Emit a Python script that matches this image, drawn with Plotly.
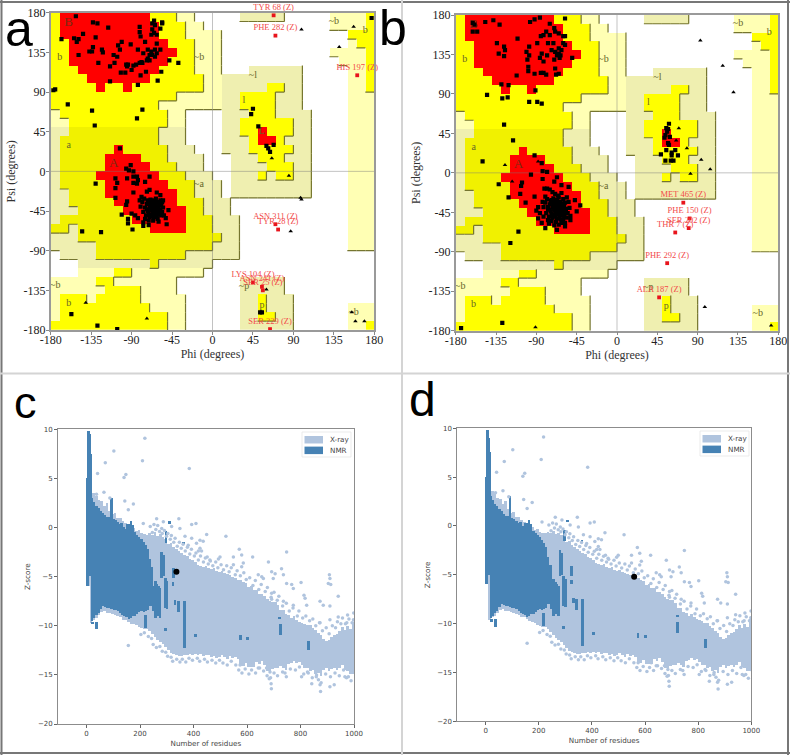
### Ramachandran plots (a, b) and Z-score plots (c, d) ###
import plotly.graph_objs as go

W, H = 790, 755

# Ramachandran regions, one row per 10 degrees of psi (from 180 down to -180).
# Every token is a region code and the phi where it ends.
# . none, L generous, l generous (darker), Y allowed, y allowed (darker), R core
REGION_ROWS = [
    "Y-170 R-70 Y-40 L-20 .30 l80 .130 L170 Y180",
    "Y-170 R-60 Y-30 L-10 .130 L170 Y180",
    "Y-170 R-60 Y-30 L10 .150 Y180",
    "Y-160 R-50 Y-20 L10 .150 L160 Y180",
    "Y-160 R-40 Y-20 L10 .130 L170 Y180",
    "Y-160 R-50 Y-20 L10 .140 L170 Y180",
    "Y-150 R-60 Y-20 L10 .40 l100 .150 L170 Y180",
    "Y-140 R-70 Y-10 L10 l100 .150 L170 Y180",
    "Y-130 R-120 Y-100 R-90 Y-10 L10 l60 Y80 l100 .150 L170 Y180",
    "Y-40 L10 l30 Y70 l100 .150 L180",
    "Y-60 L10 l30 Y70 l100 .150 L180",
    "L-170 Y-50 L-30 .10 l40 Y70 l110 .150 L180",
    "L-160 Y-50 L-30 .10 l30 Y90 l110 .150 L180",
    "l-160 y-60 l-30 .10 l30 Y50 R60 Y90 l110 .150 L180",
    "l-170 y-60 l-30 .10 l40 Y50 R70 Y80 l110 .150 L180",
    "l-170 y-110 R-100 y-50 l-20 .10 l40 Y90 l110 .150 L180",
    "l-170 y-120 R-80 y-50 l-10 .20 l50 Y80 l110 .150 L180",
    "l-170 y-120 R-70 y-40 l-10 .20 l60 Y90 l110 .150 L180",
    "l-170 y-130 R-60 y-30 l0 .20 l50 Y60 l70 Y90 l110 .150 L180",
    "l-170 y-120 R-50 y-20 l10 .20 l110 .150 L180",
    "l-160 y-120 R-40 y-20 l10 .20 l110 .150 L180",
    "l-160 y-110 R-40 y-10 l20 .150 L180",
    "l-150 y-100 R-30 y-10 l20 .150 L180",
    "l-170 y-90 R-30 y0 l30 .150 L180",
    "y-160 l-150 y-70 R-30 y0 l30 .150 L180",
    "l-150 y10 l30 .150 L180",
    "l-130 y0 l30 .150 L180",
    ".-170 l-130 y-30 l30 .180",
    ".-150 l-70 y-60 l0 .180",
    ".-150 L-110 Y-90 L-10 .180",
    "L-130 Y-110 L-40 .30 l80 .180",
    "L-120 Y-80 L-40 .30 l80 .180",
    "L-170 Y-140 L-130 Y-80 L-30 .30 l50 Y60 l90 .180",
    "L-170 Y-70 L-30 .30 l50 Y60 l90 .150 L180",
    "L-170 Y-50 L-30 .30 l50 Y70 l90 .150 L180",
    "Y-50 L-30 .30 l90 .150 L170 Y180",
]
REGION_CODES = ".LlYyR"
REGION_COLORS = ["#FFFFFF", "#FFFFB4", "#EFEFB0", "#FFFF00", "#F1F100", "#FF0000"]
REGION_RANK = {".": 0, "L": 1, "l": 1, "Y": 2, "y": 2, "R": 3}

REGION_LABELS = [("b", -170, 129), ("a", -160, 29), ("~b", -15, 129), ("~a", -15, -15),
                 ("~l", 45, 109), ("l", 35, 80), ("L", 55, 45), ("~b", 135, 170),
                 ("b", 170, 160), ("~b", -175, -130), ("b", -160, -150), ("~p", 35, -131),
                 ("p", 55, -152), ("~b", 157, -160)]
CORE_LABELS = [("B", -160, 169), ("A", -110, 9)]

a_squares = [
    (-152, 176), (-133, 169), (-128, 168), (-116, 163), (-168, 150), (-144, 156), (-154, 151),
    (-149, 150), (-151, 147), (-130, 152), (-149, 132), (-137, 136), (-134, 136), (-133, 141),
    (-123, 138), (-122, 135), (-127, 123), (-114, 119), (-109, 123), (-110, 132), (-105, 143),
    (-101, 147), (-91, 144), (-103, 138), (-106, 130), (-102, 112), (-97, 112), (-114, 102),
    (-96, 121), (-94, 121), (-95, 119), (-88, 120), (-85, 121), (-81, 123), (-78, 123),
    (-90, 115), (-80, 109), (-74, 113), (-83, 98), (-61, 103), (-57, 113), (-48, 126), (-38, 123),
    (-81, 164), (-81, 158), (-80, 153), (-65, 171), (-67, 168), (-64, 166), (-56, 169), (-56, 168),
    (-58, 162), (-67, 161), (-65, 157), (-62, 155), (-68, 155), (-62, 145), (-58, 138), (-64, 138),
    (-68, 136), (-70, 132), (-72, 128), (-67, 132), (-72, 138), (-75, 147), (-83, 138), (-77, 134),
    (-79, 124), (-73, 126), (-70, 126), (-64, 130), (-62, 134),
    (-177, 92), (-175, 93), (-161, 76), (-134, 69), (-131, 52), (-84, 60), (-78, 70),
    (-103, 26), (-130, -14), (-145, -68), (-124, -69), (-89, -66),
    (-91, 7), (-96, 3), (-93, 1), (-88, 0), (-108, -8), (-106, -13), (-108, -19), (-95, -8),
    (-88, -6), (-84, -6), (-88, -13), (-84, -14), (-83, -10), (-70, -6), (-75, -12),
    (-88, -24), (-108, -30), (-95, -34), (-96, -38), (-101, -49), (-94, -54), (-94, -59),
    (-90, -48), (-86, -50), (-83, -53), (-77, -58), (-77, -62), (-71, -61), (-79, -29), (-81, -33),
    (-73, -23), (-70, -21), (-62, -24), (-58, -27), (-55, -33), (-49, -44), (-52, -53), (-51, -60),
    (-64, -42), (-66, -40), (-62, -44), (-68, -44), (-60, -40), (-70, -41), (-58, -43), (-64, -36),
    (-67, -35), (-61, -35), (-64, -48), (-68, -49), (-60, -49), (-72, -45), (-56, -46), (-65, -52),
    (-61, -54), (-70, -52), (-57, -38), (-73, -37), (-69, -32), (-63, -31), (-58, -33), (-55, -41),
    (-75, -41), (-77, -46), (-74, -50), (-54, -50), (-66, -45), (-63, -39), (-61, -46), (-69, -38),
    (-65, -33), (-59, -46), (-71, -47), (-67, -51), (-62, -51), (-57, -50), (-72, -33), (-78, -35),
    (-80, -40), (-76, -31), (-66, -56), (-60, -57), (-71, -56), (-75, -54), (-65, -37), (-62, -42),
    (-68, -42), (-64, -45), (-59, -37), (-66, -48), (-70, -35), (-73, -43), (-56, -35),
    (45, 71), (43, 65), (51, 51), (60, 29), (62, 26), (64, 22), (68, 30), (53, -160), (55, -160),
    (-157, -162), (-128, -175), (-106, -179), (177, 174),
]
a_triangles = [(-141, -149), (-73, -167), (141, 141), (157, 164), (66, 15), (85, -5), (99, -32),
               (98, -30), (87, -68), (99, 161), (159, -170), (169, -170), (155, -160), (60, -134)]
a_outliers = [("TYR 68 (Z)", 68, 177), ("PHE 282 (Z)", 70, 154), ("HIS 197 (Z)", 161, 109),
              ("ASN 311 (Z)", 70, -60), ("TYR 28 (Z)", 73, -66), ("LYS 104 (Z)", 45, -126),
              ("ASN 241 (Z)", 55, -131), ("SER 25 (Z)", 56, -135), ("SER 229 (Z)", 64, -179)]

b_squares = [
    (-161, 171), (-159, 169), (-161, 161), (-156, 161), (-147, 172), (-138, 174), (-131, 169),
    (-97, 172), (-92, 175), (-86, 177), (-58, 176), (-75, 170), (-70, 165), (-79, 161), (-85, 156),
    (-82, 157), (-75, 157), (-69, 161), (-65, 159), (-60, 156), (-58, 156), (-111, 153), (-134, 148),
    (-126, 144), (-125, 140), (-132, 136), (-126, 133), (-98, 144), (-101, 138), (-98, 134),
    (-100, 129), (-89, 148), (-84, 136), (-86, 131), (-82, 127), (-78, 134), (-73, 140), (-69, 138),
    (-65, 136), (-62, 140), (-58, 146), (-60, 148), (-64, 131), (-67, 134), (-70, 129), (-65, 142),
    (-63, 134), (-50, 131), (-71, 148), (-77, 148), (-69, 119), (-65, 113), (-68, 112), (-99, 121),
    (-99, 116), (-92, 113), (-85, 114), (-79, 112), (-82, 114), (-112, 111), (-129, 101), (-121, 100),
    (-91, 94), (-145, 89), (-128, 85), (-122, 86), (-98, 81), (-89, 81), (-84, 79), (-126, 55),
    (-116, 37), (-150, 13), (-132, -13), (-110, -67), (-119, -80),
    (-92, 20), (-84, 11), (-96, -2), (-78, 1), (-83, 2), (-106, -11), (-107, -15), (-108, -24),
    (-121, -28), (-102, -34), (-92, -27), (-83, -7), (-81, -18), (-67, -5), (-70, -10), (-75, -19),
    (-78, -18), (-88, -39), (-90, -43), (-86, -46), (-82, -50), (-80, -63), (-88, -52), (-84, -57),
    (-67, -65), (-58, -61), (-52, -54), (-47, -31), (-41, -37), (-45, -44), (-62, -14), (-54, -16),
    (-73, -31), (-77, -39),
    (-66, -40), (-68, -38), (-64, -42), (-70, -43), (-62, -37), (-72, -39), (-60, -44), (-66, -34),
    (-69, -33), (-63, -33), (-66, -47), (-70, -48), (-62, -48), (-74, -44), (-58, -46), (-67, -52),
    (-63, -53), (-72, -51), (-59, -37), (-75, -36), (-71, -29), (-65, -28), (-60, -30), (-57, -41),
    (-77, -41), (-79, -46), (-76, -50), (-56, -51), (-68, -44), (-65, -39), (-63, -45), (-71, -36),
    (-67, -31), (-61, -41), (-73, -47), (-69, -50), (-64, -50), (-59, -50), (-74, -32), (-80, -34),
    (-82, -39), (-78, -30), (-68, -56), (-62, -57), (-73, -55), (-77, -54), (-67, -36), (-64, -37),
    (-70, -41), (-66, -43), (-61, -35), (-68, -47), (-72, -34), (-75, -42), (-58, -34), (-55, -46),
    (-53, -40), (-66, -26), (-62, -23), (-69, -24), (-72, -22), (-60, -54), (-65, -59), (-58, -57),
    (-70, -60), (-76, -58), (-80, -27), (-83, -33), (-56, -28), (-54, -33), (-52, -49),
    (58, 56), (55, 51), (57, 50), (54, 43), (59, 41), (57, 34), (58, 32), (49, 21), (55, 26), (61, 23),
    (65, 26), (68, 20), (54, 14), (60, 14), (63, 14), (61, 20), (56, 47), (53, 40),
    (-174, -177), (-128, -171),
]
b_triangles = [(-125, 9), (-88, 13), (-117, -10), (69, 51), (66, 37), (78, 28), (82, -1), (93, 151),
               (118, 122), (130, 92), (94, 15), (104, 4), (98, -153), (172, -174), (-91, -176)]
b_outliers = [("MET 465 (Z)", 74, -34), ("PHE 150 (Z)", 81, -52), ("SER 202 (Z)", 80, -63),
              ("THR 7 (Z)", 65, -68), ("PHE 292 (Z)", 56, -103), ("ALA 187 (Z)", 47, -142)]

# X-ray cloud of the Z-score plots, upper and lower edge per 10 residues
xray_n = list(range(5, 1000, 10))
xray_hi = [5.5, 4.5, 3.5, 3.2, 2.8, 2.7, 2.2, 2.5, 1.7, 1.3,
           1.4, 0.9, 0.9, 0.6, 0.4, 0.2, 0.1, -0.1, -0.4, -0.3,
           -0.6, -0.7, -0.8, -0.6, -0.8, -0.5, -0.9, -0.7,
           -1, -1.2, -1.7, -1.6, -2, -2.2, -2.4, -2.6, -2.8, -2.9,
           -3.2, -3.3, -3.5, -3.8, -3.9, -4, -3.9, -4.2, -4.3, -4.2,
           -4.5, -4.6, -4.5, -4.7, -4.8, -4.9, -5.1, -5.2, -5.4, -5.4,
           -5.6, -5.7, -6.1, -6, -6.4, -6.4, -6.8, -6.8, -7, -7.3,
           -7.5, -7.6, -7.6, -7.9, -8.4, -8.4, -8.8, -8.9, -9.2, -9,
           -9.4, -9.6, -9.7, -9.8, -10, -10, -10.3, -10.5, -10.8, -11,
           -11.4, -11.6, -11.5, -11.2, -11, -10.9, -10.6, -10.2, -10.5, -10.1, -10.4, -9.6]
xray_lo = [-6, -9.7, -9.4, -9.2, -8.9, -8.6, -8.5, -8.7, -8.7, -8.8, -8.9, -9, -9.1, -9.4, -9.4, -9.6, -9.8, -9.9,
           -10, -10.2, -10.3, -10.4, -10.4, -10.6, -10.9, -11.2, -11.5, -11.7, -11.9, -12.2, -12.5, -12.8, -12.9,
           -13, -13.1, -13.1, -13, -13, -12.9, -13, -12.9, -13, -12.9, -13.1, -13, -13, -13.2, -13.1, -13.3, -13.2,
           -13, -13.2, -13.4, -13.1, -13.3, -13.2, -13.4, -14.1, -14.1, -13.8, -14.2, -14.2, -14.2, -13.7, -13.9,
           -13.6, -14, -14.6, -14.6, -14.4, -14.3, -14.3, -14.1, -14.3, -14.5, -13.9, -13.8, -13.6, -13.8, -13.7,
           -14, -14.3, -14.3, -14.6, -14.5, -14.9, -14.8, -15.1, -14.5, -14.3, -14.6, -14.4, -14.3, -14.5, -14.3,
           -14, -14.5, -14.6, -14.9, -14.9]
xray_stray = [
    (218, 9.1), (102, 7.8), (209, 6.8), (70, 6.6), (384, 6), (147, 5.4), (140, 5.1), (41, 5.5), (143, 2.7),
    (175, 2.4), (156, 1.8), (65, 3.6), (87, 3), (37, 3.4), (212, 0.4), (262, 0.9), (287, 0.6), (345, 0.9),
    (318, 0.1), (393, 0.3), (409, 0.4), (349, -0.1), (449, -0.7), (521, -0.9), (368, -0.9), (393, -1.1),
    (424, -1.3), (436, -1.4), (411, -1.6), (380, -1.8), (424, -2.1), (418, -2.4), (430, -2.4), (571, -2.2),
    (748, -2.5), (621, -3), (549, -3), (580, -2.8), (499, -3), (493, -3.2), (461, -3.3), (451, -3), (680, -3.5),
    (586, -3.6), (549, -3.8), (580, -4), (729, -4.2), (692, -4.5), (705, -4.7), (736, -4.8), (642, -4.8),
    (655, -5), (661, -5.2), (698, -5.2), (908, -4.8), (910, -5.2), (904, -5.7), (913, -5.8), (748, -5.7),
    (767, -5.8), (773, -6.2), (802, -5.6), (813, -6.9), (817, -7.2), (873, -7.5), (941, -7), (885, -7.9),
    (910, -8), (692, -6.7), (692, -7.3), (736, -7.5), (773, -7.9), (823, -7.9), (976, -8.9), (941, -9.1),
    (910, -9.4), (873, -9.7), (998, -9.4), (973, -9.7), (156, -12), (673, -14.3), (686, -14.7), (688, -15.3),
    (690, -15.9), (691, -16.4), (804, -15.2), (829, -14.8), (842, -15.9), (860, -15), (873, -16), (875, -16.7),
    (867, -15.5), (910, -16.2), (926, -16), (966, -15.2), (979, -15.2), (574, -14), (623, -14), (642, -14.3),
    (742, -14.8), (998, -14.7), (985, -14.3),
]
# Points that make the rough upper and lower rim of the X-ray cloud
xray_rim = [
    (238, 0.1), (246, -0.5), (252, 0.3), (259, -0.2), (266, 0.2), (273, -0.4), (281, -0.1), (283, -0.6), (291, -0.3),
    (299, -0.9), (304, -0.6), (313, -1.2), (317, -0.8), (326, -1.5), (331, -1.1), (339, -1.9), (347, -1.5), (354, -2.1),
    (361, -1.7), (369, -2.4), (377, -2), (386, -2.7), (392, -2.2), (403, -2.9), (409, -2.6), (418, -3.3), (426, -2.9),
    (437, -3.5), (444, -3.1), (455, -3.7), (463, -3.4), (472, -3.9), (483, -3.5), (491, -4.1), (503, -3.8), (512, -4.3),
    (524, -3.9), (533, -4.5), (541, -4.1), (556, -4.8), (563, -4.4), (575, -4.9), (588, -4.6), (597, -5.3), (610, -5.1),
    (622, -5.9), (631, -5.4), (644, -6.3), (653, -5.8), (668, -6.5), (676, -6.1), (690, -7.1), (701, -6.6), (713, -7.4),
    (719, -7), (733, -8), (747, -7.7), (758, -8.5), (772, -8.2), (788, -9), (794, -8.5), (808, -9.2), (820, -9),
    (834, -9.5), (846, -9.3), (857, -10), (871, -9.7), (882, -10.5), (896, -10.2), (907, -10.8), (919, -10),
    (931, -10.2), (938, -9.6), (951, -9.8), (957, -9.2), (968, -9.8), (981, -9.3), (993, -9.7), (999, -8.7),
    (203, -10.9), (216, -10.7), (231, -11.1), (243, -11.3), (249, -11.9), (261, -12.2), (274, -12.1), (283, -12.6),
    (296, -12.7), (303, -13.1), (316, -13.2), (322, -13.6), (337, -13.4), (349, -13.7), (358, -13.4), (371, -13.7),
    (383, -13.3), (396, -13.5), (414, -13.3), (423, -13.6), (441, -13.4), (452, -13.7), (469, -13.5), (483, -13.8),
    (497, -13.5), (510, -13.8), (526, -14), (541, -13.6), (558, -14), (569, -14.5), (581, -14.8), (593, -14.4),
    (607, -14.9), (617, -14.5), (632, -14.8), (647, -14.3), (662, -14.6), (675, -15.1), (683, -15.4), (701, -14.8),
    (714, -15.1), (733, -14.7), (747, -15.2), (762, -14.4), (781, -14.5), (796, -14.2), (812, -14.9), (826, -14.7),
    (844, -15.3), (859, -15.2), (877, -15.8), (894, -14.9), (912, -15.2), (929, -14.8), (945, -15.1), (961, -14.5),
    (972, -15.3), (989, -15.6),
]

# NMR cloud: main body per 8 residues, then the separate columns
nmr_n = [20, 28, 36, 44, 52, 60, 68, 76, 84, 92, 100, 108, 116, 124, 132, 140, 148, 156, 164, 172, 180, 188, 196,
         204, 212, 220, 228, 236]
nmr_hi = [3, 2.6, 2.2, 2, 1.7, 1.5, 1.2, 1, 1, 3, 0.8, 0.7, 0.5, 0.3, 0, 0, -0.2, 0.3, 0.6, 0.2, -0.5, -0.8,
          -1, -1.2, -1.5, -1.8, -2.2, -3.2]
nmr_lo = [-9.5, -9.2, -8.9, -8.7, -8.3, -8, -8.1, -8.2, -8.2, -8.3, -8.4, -8.4, -8.5, -8.7, -8.9, -9, -9.1, -9.3,
          -9.2, -9, -9, -8.8, -8.6, -8.5, -8.6, -8.5, -8.4, -8]
col_n = [2, 6, 9, 12, 15, 37, 21, 244, 256, 268, 280, 293, 296, 324, 330, 343, 365, 218, 293, 405, 574, 601, 723,
         721, 828, 362, 309, 322, 248, 262, 274, 300, 286, 130, 150]
col_hi = [5, 9.8, 9.5, 9, 7.5, -9.6, -9.6, -4, -5.5, -6, -2.5, -5.2, -0.4, -4.1, -7.4, -7.5, -7.5, -8.9, -10.3,
          -10.9, -11, -11.2, -9.9, -9.1, -11.6, -1.5, 0.6, -5.6, -6, -5.8, -6.2, -5.5, -2.8, 0.4, 0.3]
col_lo = [-6, -5, -5, -5, -5, -10.4, -9.9, -8, -9.2, -9, -5.2, -8.2, -1.6, -5.2, -7.9, -8.6, -12.3, -10.3, -10.5,
          -11.2, -11.5, -11.4, -11, -9.3, -12.5, -1.7, 0.4, -6, -8.5, -9, -9.2, -8.3, -5, -1, -1]

c_query = (336, -4.5)
d_query = (559, -5.2)

RAMA_TICKS = [-180, -135, -90, -45, 0, 45, 90, 135, 180]
RAMA_TICK_LABELS = ["-180", "-135", "-90", "-45", "0", "45", "90", "135", "180"]
N_TICKS = [0, 200, 400, 600, 800, 1000]
Z_TICKS = [-20, -15, -10, -5, 0, 5, 10]

SERIF = "Liberation Serif"
SANS = "DejaVu Sans"
XRAY_COLOR = "#B0C4DE"
NMR_COLOR = "#4682B4"
FRAME_DARK = "#777777"
FRAME_LIGHT = "#D4D4D4"


def region_grid():
    grid = []
    for row in REGION_ROWS:
        cells, phi = [], -180
        for token in row.split():
            end = int(token[1:])
            cells += [token[0]] * ((end - phi) // 10)
            phi = end
        assert len(cells) == 36, row
        grid.append(cells)
    return grid


def region_edges(grid):
    # Dark edge on the right and lower side of every region, except the core one
    xs, ys = [], []
    for j, cells in enumerate(grid):
        top = 180 - 10 * j
        for i, c in enumerate(cells):
            left = -180 + 10 * i
            rank = REGION_RANK[c]
            if rank == 0 or rank == 3:
                continue
            if i < 35 and REGION_RANK[cells[i + 1]] < rank:
                xs += [left + 10, left + 10, None]
                ys += [top, top - 10, None]
            if j < 35 and REGION_RANK[grid[j + 1][i]] < rank:
                xs += [left, left + 10, None]
                ys += [top - 10, top - 10, None]
    return xs, ys


def col_split(pairs):
    return [p[0] for p in pairs], [p[1] for p in pairs]


def add_rama(fig, ax, squares, triangles, outliers):
    grid = region_grid()
    n = len(REGION_CODES) - 1
    scale = []
    for k, color in enumerate(REGION_COLORS):
        scale += [[k / (n + 1), color], [(k + 1) / (n + 1), color]]
    z = [[REGION_CODES.index(c) for c in cells] for cells in grid]
    xref, yref = "x" + ax, "y" + ax
    fig.add_trace(go.Heatmap(x=[-175 + 10 * i for i in range(36)], y=[175 - 10 * j for j in range(36)], z=z,
                             zmin=-0.5, zmax=n + 0.5, colorscale=scale, showscale=False, hoverinfo="skip",
                             xaxis=xref, yaxis=yref))
    ex, ey = region_edges(grid)
    fig.add_trace(go.Scatter(x=ex, y=ey, mode="lines", line=dict(color="#75752F", width=1.2),
                             xaxis=xref, yaxis=yref))
    fig.add_trace(go.Scatter(x=[0, 0, None, -180, 180], y=[-180, 180, None, 0, 0], mode="lines",
                             line=dict(color="rgba(120,120,120,0.45)", width=1), xaxis=xref, yaxis=yref))
    t, lx, ly = zip(*REGION_LABELS)
    fig.add_trace(go.Scatter(x=lx, y=ly, text=t, mode="text", textfont=dict(family=SERIF, size=10, color="#66662A"),
                             xaxis=xref, yaxis=yref))
    t, lx, ly = zip(*CORE_LABELS)
    fig.add_trace(go.Scatter(x=lx, y=ly, text=t, mode="text", textfont=dict(family=SERIF, size=13, color="#7A2A10"),
                             xaxis=xref, yaxis=yref))
    sx, sy = col_split(squares)
    fig.add_trace(go.Scatter(x=sx, y=sy, mode="markers", marker=dict(symbol="square", size=4.2, color="black"),
                             xaxis=xref, yaxis=yref))
    sx, sy = col_split(triangles)
    fig.add_trace(go.Scatter(x=sx, y=sy, mode="markers", marker=dict(symbol="triangle-up", size=4, color="black"),
                             xaxis=xref, yaxis=yref))
    t, lx, ly = zip(*outliers)
    fig.add_trace(go.Scatter(x=lx, y=ly, text=t, mode="markers+text", textposition="top center", cliponaxis=False,
                             marker=dict(symbol="square", size=3.8, color="#E8141C"),
                             textfont=dict(family=SERIF, size=8.5, color="#F24A4A"), xaxis=xref, yaxis=yref))


def add_zscore(fig, ax, query):
    xref, yref = "x" + ax, "y" + ax
    fig.add_trace(go.Bar(x=xray_n, y=[h - l for h, l in zip(xray_hi, xray_lo)], base=xray_lo, width=10,
                         marker=dict(color=XRAY_COLOR, line_width=0), xaxis=xref, yaxis=yref))
    sx, sy = col_split(xray_stray + xray_rim)
    fig.add_trace(go.Scatter(x=sx, y=sy, mode="markers", marker=dict(size=3.5, color=XRAY_COLOR),
                             xaxis=xref, yaxis=yref))
    fig.add_trace(go.Bar(x=nmr_n, y=[h - l for h, l in zip(nmr_hi, nmr_lo)], base=nmr_lo, width=8,
                         marker=dict(color=NMR_COLOR, line_width=0), xaxis=xref, yaxis=yref))
    fig.add_trace(go.Bar(x=col_n, y=[h - l for h, l in zip(col_hi, col_lo)], base=col_lo, width=10,
                         marker=dict(color=NMR_COLOR, line_width=0), xaxis=xref, yaxis=yref))
    fig.add_trace(go.Scatter(x=[query[0]], y=[query[1]], mode="markers", marker=dict(size=6, color="black"),
                             xaxis=xref, yaxis=yref))


def domain_x(left, right):
    return [left / W, right / W]


def domain_y(top, bottom):
    return [1 - bottom / H, 1 - top / H]


def rama_axes(title, dom, label_shift, title_gap):
    return dict(domain=dom, range=[-180, 180], tickvals=RAMA_TICKS, ticktext=RAMA_TICK_LABELS, ticks="outside",
                ticklen=3, tickwidth=1, tickcolor="#888888", showgrid=False, zeroline=False, showline=True,
                mirror=True, automargin=False, linecolor="#9A9A9A", linewidth=1.5, ticklabelstandoff=label_shift,
                tickfont=dict(family=SERIF, size=12, color="#222222"),
                title=dict(text=title, font=dict(family=SERIF, size=12, color="#333333"), standoff=title_gap))


def z_axes(title, dom, rng, ticks, title_gap):
    return dict(domain=dom, range=rng, tickvals=ticks, ticks="outside", ticklen=2.5, tickwidth=1,
                tickcolor="#666666", showgrid=False, zeroline=False, showline=True, mirror=True, automargin=False,
                linecolor="#8C8C8C", linewidth=1.2, tickfont=dict(family=SANS, size=7, color="#444444"),
                title=dict(text=title, font=dict(family=SANS, size=7.2, color="#444444"), standoff=title_gap))


fig = go.Figure()
add_rama(fig, "", a_squares, a_triangles, a_outliers)
add_rama(fig, "2", b_squares, b_triangles, b_outliers)
add_zscore(fig, "3", c_query)
add_zscore(fig, "4", d_query)

shapes, annotations = [], []

# Legends of the Z-score plots, in pixels of the page
for left, top in [(302, 432), (700, 431)]:
    shapes.append(dict(type="rect", xref="paper", yref="paper", x0=left / W, x1=(left + 49) / W,
                       y0=1 - top / H, y1=1 - (top + 25) / H, fillcolor="white",
                       line=dict(color="#E6E6E6", width=0.8)))
    for k, (name, color) in enumerate([("X-ray", XRAY_COLOR), ("NMR", NMR_COLOR)]):
        y0 = top + 4 + k * 10.6
        shapes.append(dict(type="rect", xref="paper", yref="paper", x0=(left + 2.5) / W, x1=(left + 21) / W,
                           y0=1 - y0 / H, y1=1 - (y0 + 7.5) / H, fillcolor=color, line_width=0))
        annotations.append(dict(xref="paper", yref="paper", x=(left + 25.5) / W, y=1 - (y0 + 3.8) / H,
                                xanchor="left", yanchor="middle", showarrow=False, text=name,
                                font=dict(family=SANS, size=7.2, color="#444444")))

# Panel frames
frames = [(1.5, 0, 1.5, H, FRAME_DARK, 2), (0, 2, W, 2, FRAME_DARK, 2), (0, 753, W, 753, FRAME_DARK, 2),
          (788, 0, 788, H, FRAME_DARK, 2), (402, 0, 402, H, FRAME_LIGHT, 2), (0, 373.5, W, 373.5, FRAME_LIGHT, 2)]
for x0, y0, x1, y1, color, width in frames:
    shapes.append(dict(type="line", xref="paper", yref="paper", x0=x0 / W, x1=x1 / W, y0=1 - y0 / H, y1=1 - y1 / H,
                       line=dict(color=color, width=width)))

for letter, x, y, size in [("a", 3, 29, 50), ("b", 377, 28, 50), ("c", 12, 402, 45), ("d", 407, 399, 48)]:
    annotations.append(dict(xref="paper", yref="paper", x=x / W, y=1 - y / H, xanchor="left", yanchor="middle",
                            showarrow=False, text=letter, font=dict(family="Liberation Sans", size=size, color="black")))

fig.update_layout(
    width=W, height=H, margin=dict(l=0, r=0, t=0, b=0), paper_bgcolor="white", plot_bgcolor="white",
    showlegend=False, barmode="overlay", bargap=0, shapes=shapes, annotations=annotations,
    xaxis=rama_axes("Phi (degrees)", domain_x(50.7, 374.3), -5, 0),
    yaxis=rama_axes("Psi (degrees)", domain_y(12.7, 330), -2, 5),
    xaxis2=rama_axes("Phi (degrees)", domain_x(455.7, 778.3), -5, 0),
    yaxis2=rama_axes("Psi (degrees)", domain_y(15, 330.7), -2, 5),
    xaxis3=z_axes("Number of residues", domain_x(57.7, 354), [-108, 1000], N_TICKS, 3),
    yaxis3=z_axes("Z-score", domain_y(429.3, 724), [-20, 10], Z_TICKS, 6),
    xaxis4=z_axes("Number of residues", domain_x(457, 751.3), [-108, 1000], N_TICKS, 3),
    yaxis4=z_axes("Z-score", domain_y(428.3, 721.3), [-20, 10], Z_TICKS, 5),
)
for i, ax in enumerate(["yaxis", "yaxis2", "yaxis3", "yaxis4"]):
    fig.layout[ax].anchor = ["x", "x2", "x3", "x4"][i]
    fig.layout[ax.replace("y", "x", 1)].anchor = ["y", "y2", "y3", "y4"][i]

# the page has a default body margin that would push the figure out of the window
fig.write_html("out.html", config={"displayModeBar": False}, post_script="document.body.style.margin = '0';")
